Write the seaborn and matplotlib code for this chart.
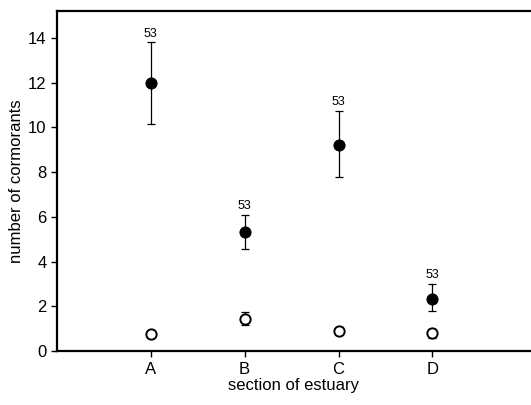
import numpy as np
import pandas as pd
import matplotlib
matplotlib.use('Agg')
import matplotlib.pyplot as plt
import seaborn as sns

# data
sections = ['A', 'B', 'C', 'D']
filled_mean = [12.0, 5.32, 9.2, 2.35]
filled_low = [10.15, 4.55, 7.8, 1.8]
filled_high = [13.8, 6.1, 10.75, 3.0]
open_mean = [0.75, 1.45, 0.9, 0.8]
open_low = [0.6, 1.15, 0.75, 0.6]
open_high = [0.9, 1.75, 1.1, 1.0]
n_labels = ['53', '53', '53', '53']

sns.set_style('ticks', {'axes.edgecolor': 'black', 'xtick.color': 'black',
                        'ytick.color': 'black', 'text.color': 'black',
                        'axes.labelcolor': 'black'})
plt.rcParams['font.family'] = ['Liberation Sans', 'DejaVu Sans']

xpos = np.arange(1, len(sections) + 1)
df = pd.DataFrame({'x': np.concatenate([xpos, xpos]),
                   'y': filled_mean + open_mean,
                   'kind': ['filled'] * 4 + ['open'] * 4})

fig = plt.figure(figsize=(5.31, 4.05), dpi=100)
ax = fig.add_axes([0.107, 0.133, 0.893, 0.84])

# error bars first so markers sit on top
ax.errorbar(xpos, filled_mean,
            yerr=[np.subtract(filled_mean, filled_low), np.subtract(filled_high, filled_mean)],
            fmt='none', ecolor='black', elinewidth=0.9, capsize=3, capthick=0.9, zorder=1)
ax.errorbar(xpos, open_mean,
            yerr=[np.subtract(open_mean, open_low), np.subtract(open_high, open_mean)],
            fmt='none', ecolor='black', elinewidth=0.9, capsize=3, capthick=0.9, zorder=1)

sns.scatterplot(data=df[df['kind'] == 'filled'], x='x', y='y', ax=ax,
                color='black', edgecolor='black', s=65, zorder=3, legend=False)
sns.scatterplot(data=df[df['kind'] == 'open'], x='x', y='y', ax=ax,
                color='white', edgecolor='black', linewidth=1.4, s=55, zorder=3, legend=False)

# sample size labels above the filled error bars
for x, top, lab in zip(xpos, filled_high, n_labels):
    ax.text(x, top + 0.12, lab, ha='center', va='bottom', fontsize=9)

ax.set_xlim(0, 5.05)
ax.set_ylim(0, 15.2)
ax.set_xticks(xpos)
ax.set_xticklabels(sections)
ax.set_yticks(range(0, 15, 2))
ax.tick_params(labelsize=12, length=4, width=1, colors='black')
ax.set_xlabel('section of estuary', fontsize=12, labelpad=1)
ax.set_ylabel('number of cormorants', fontsize=12, labelpad=3)

for side in ['left', 'bottom', 'top']:
    ax.spines[side].set_linewidth(1.6)
    ax.spines[side].set_color('black')
ax.spines['right'].set_visible(False)

plt.savefig('out.png', dpi=100)
